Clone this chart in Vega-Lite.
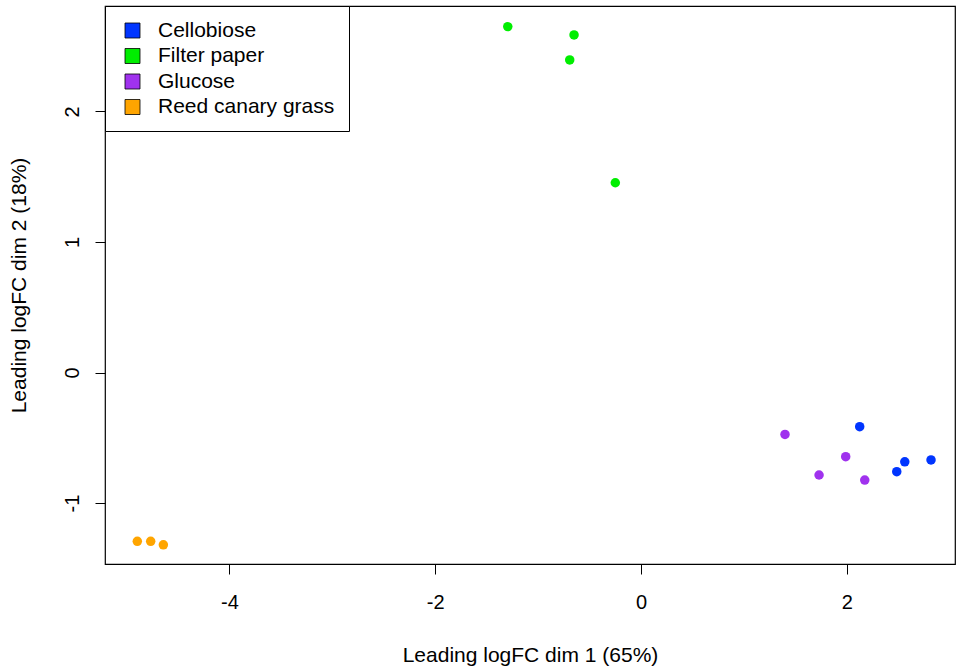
{
  "$schema": "https://vega.github.io/schema/vega-lite/v6.json",
  "autosize": {"type": "none"},
  "padding": {"left": 105, "top": 6, "right": 1, "bottom": 105},
  "width": 850,
  "height": 558,
  "background": "white",
  "config": {
    "font": "Liberation Sans",
    "view": {"stroke": "black", "strokeWidth": 1.2}
  },
  "data": {
    "values": [
      {"group": "Cellobiose", "dim1": 2.125, "dim2": -0.415},
      {"group": "Cellobiose", "dim1": 2.485, "dim2": -0.760},
      {"group": "Cellobiose", "dim1": 2.563, "dim2": -0.684},
      {"group": "Cellobiose", "dim1": 2.818, "dim2": -0.670},
      {"group": "Filter paper", "dim1": -1.295, "dim2": 2.650},
      {"group": "Filter paper", "dim1": -0.651, "dim2": 2.586},
      {"group": "Filter paper", "dim1": -0.693, "dim2": 2.395},
      {"group": "Filter paper", "dim1": -0.250, "dim2": 1.454},
      {"group": "Glucose", "dim1": 1.399, "dim2": -0.474},
      {"group": "Glucose", "dim1": 1.730, "dim2": -0.785},
      {"group": "Glucose", "dim1": 1.989, "dim2": -0.645},
      {"group": "Glucose", "dim1": 2.174, "dim2": -0.824},
      {"group": "Reed canary grass", "dim1": -4.895, "dim2": -1.293},
      {"group": "Reed canary grass", "dim1": -4.765, "dim2": -1.293},
      {"group": "Reed canary grass", "dim1": -4.642, "dim2": -1.320}
    ]
  },
  "mark": {"type": "circle", "size": 90, "opacity": 1},
  "encoding": {
    "x": {
      "field": "dim1",
      "type": "quantitative",
      "scale": {"domain": [-5.209, 3.051], "nice": false, "zero": false},
      "axis": {
        "title": "Leading logFC dim 1 (65%)",
        "values": [-4, -2, 0, 2],
        "labelExpr": "datum.value < 0 ? '-' + abs(datum.value) : '' + datum.value",
        "grid": false,
        "domain": false,
        "tickSize": 10,
        "tickColor": "black",
        "labelFontSize": 20,
        "labelColor": "black",
        "labelPadding": 18,
        "titleFontSize": 21,
        "titleFontWeight": "normal",
        "titleColor": "black",
        "titleBaseline": "middle",
        "titleY": 91
      }
    },
    "y": {
      "field": "dim2",
      "type": "quantitative",
      "scale": {"domain": [-1.467, 2.808], "nice": false, "zero": false},
      "axis": {
        "title": "Leading logFC dim 2 (18%)",
        "values": [-1, 0, 1, 2],
        "labelExpr": "datum.value < 0 ? '-' + abs(datum.value) : '' + datum.value",
        "grid": false,
        "domain": false,
        "tickSize": 10,
        "tickColor": "black",
        "labelFontSize": 20,
        "labelColor": "black",
        "labelAngle": -90,
        "labelAlign": "center",
        "labelBaseline": "alphabetic",
        "labelPadding": 17,
        "titleFontSize": 21,
        "titleFontWeight": "normal",
        "titleColor": "black",
        "titleAngle": -90,
        "titleBaseline": "middle",
        "titleX": -86
      }
    },
    "color": {
      "field": "group",
      "type": "nominal",
      "scale": {
        "domain": ["Cellobiose", "Filter paper", "Glucose", "Reed canary grass"],
        "range": ["#0035FF", "#00EE00", "#A032EE", "#FFA500"]
      },
      "legend": {
        "title": null,
        "orient": "top-left",
        "offset": 0,
        "strokeColor": "black",
        "fillColor": "white",
        "padding": 14,
        "symbolType": "square",
        "symbolSize": 225,
        "symbolStrokeColor": "black",
        "symbolStrokeWidth": 0.8,
        "symbolOpacity": 1,
        "symbolOffset": 3,
        "labelFontSize": 21,
        "labelColor": "black",
        "labelOffset": 15,
        "labelLimit": 0,
        "rowPadding": 3.5
      }
    }
  }
}
